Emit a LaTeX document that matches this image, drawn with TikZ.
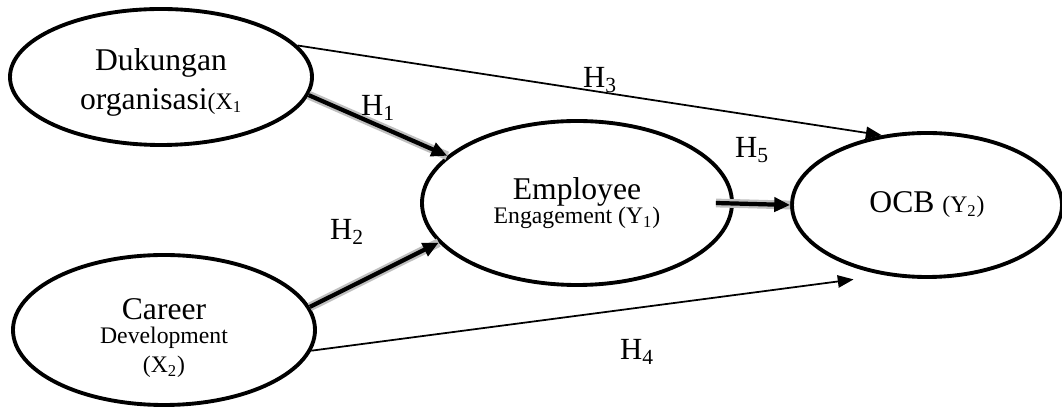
\documentclass[tikz,border=0pt]{standalone}
\usepackage{fontspec}
\setmainfont{Liberation Serif}
\usetikzlibrary{shapes.geometric,arrows.meta}

\tikzset{
  var/.style={ellipse, draw, line width=2.2pt, inner sep=0pt, align=center,
    font=\fontsize{18}{20}\selectfont},
  vartext/.style={align=center, font=\fontsize{18}{20}\selectfont},
  thinarrow/.style={line width=1pt, -{Triangle[length=9pt,width=7pt]}},
  thickarrow/.style={line width=2.4pt, -{Triangle[length=9pt,width=8pt]},
    preaction={draw=black!25, line width=5pt, -}},
  hlabel/.style={font=\fontsize{17.5}{20}\selectfont}
}
\newcommand{\smallsub}{\fontsize{13.5}{15}\selectfont}

\begin{document}
\begin{tikzpicture}
    \useasboundingbox (0,0) rectangle (21.24,-8.18);
    % Variables
    \node[var, minimum width=6.04cm, minimum height=2.72cm,
        label={[vartext, yshift=-3pt]center:Dukungan\\[2pt]organisasi{\smallsub(X\textsubscript{1}}}]
        (x1) at (3.22,-1.54) {};
    \node[var, minimum width=6.04cm, minimum height=3.0cm,
        label={[vartext, yshift=-4.5pt]center:Career\\[-6pt]{\smallsub Development}\\[-3.5pt]{\smallsub(X\textsubscript{2})}}]
        (x2) at (3.28,-6.6) {};
    \node[var, minimum width=6.2cm, minimum height=3.28cm] (y1) at (11.54,-4.06)
        {Employee\\[-6pt]{\smallsub Engagement (Y\textsubscript{1})}};
    \node[var, minimum width=5.4cm, minimum height=2.88cm] (y2) at (18.54,-4.1)
        {OCB {\smallsub(Y\textsubscript{2})}};
    % Flechas
    \draw[thickarrow] (x1.-7) -- (y1.160);
    \draw[thickarrow] (x2.9) -- (y1.196);
    \draw[thinarrow] (x1.13) -- (y2.123);
    \draw[thinarrow] (x2.-8) -- ([shift={(-0.06,-0.22)}]y2.222);
    \draw[thickarrow] ([xshift=-0.36cm]y1.east) -- (y2.west);
    % Hipotesis
    \node[hlabel] (h1) at (7.56,-2.16) {H\textsubscript{1}};
    \node[hlabel] (h2) at (6.94,-4.64) {H\textsubscript{2}};
    \node[hlabel] (h3) at (12.0,-1.6) {H\textsubscript{3}};
    \node[hlabel] (h4) at (12.74,-7.04) {H\textsubscript{4}};
    \node[hlabel] (h5) at (15.04,-3.0) {H\textsubscript{5}};
\end{tikzpicture}
\end{document}
